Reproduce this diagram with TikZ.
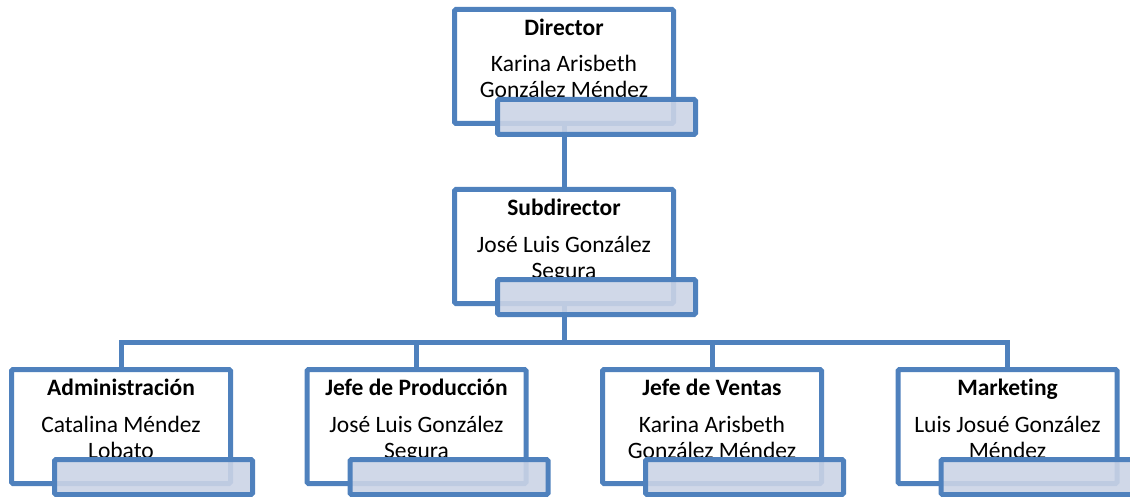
\documentclass[tikz,border=0pt]{standalone}
\usepackage{fontspec}
\setmainfont[Ligatures=NoCommon]{Carlito}
\definecolor{azulborde}{RGB}{79,129,189}
\definecolor{azulrelleno}{RGB}{203,212,230}

\begin{document}
\begin{tikzpicture}[x=1pt,y=1pt,
	puesto/.style={draw=azulborde,line width=5pt,fill=white,rounded corners=1.5pt,minimum width=219pt,minimum height=114pt,inner sep=0pt,outer sep=0pt},
	etiqueta/.style={draw=azulborde,line width=5pt,fill=azulrelleno,fill opacity=0.9,rounded corners=1.5pt,minimum width=198pt,minimum height=35pt,inner sep=0pt,outer sep=0pt,xshift=32.5pt,yshift=-50.5pt},
	titulo/.style={anchor=base,font=\fontsize{23.5}{26}\selectfont\bfseries,inner sep=0pt},
	nombre/.style={anchor=base,align=center,font=\fontsize{23.5}{26}\selectfont,inner sep=0pt},
	linea/.style={draw=azulborde,line width=5pt}]
	\useasboundingbox (0,0) rectangle (1130,-497);
	
	% cajas
	\node[puesto] (dir) at (564,-66.5) {};
	\node[puesto] (sub) at (564,-246.5) {};
	\node[puesto] (adm) at (121,-426.5) {};
	\node[puesto] (prod) at (416.5,-426.5) {};
	\node[puesto] (ven) at (712,-426.5) {};
	\node[puesto] (mkt) at (1007.5,-426.5) {};
	
	\node[titulo] (dirT) at ([yshift=-26pt]dir.north) {Director};
	\node[nombre] (dirN) at ([yshift=-88.5pt]dir.north) {Karina Arisbeth\\González Méndez};
	\node[titulo] (subT) at ([yshift=-26pt]sub.north) {Subdirector};
	\node[nombre] (subN) at ([yshift=-88.5pt]sub.north) {José Luis González\\Segura};
	\node[titulo] (admT) at ([yshift=-26pt]adm.north) {Administración};
	\node[nombre] (admN) at ([yshift=-88.5pt]adm.north) {Catalina Méndez\\Lobato};
	\node[titulo] (prodT) at ([yshift=-26pt]prod.north) {Jefe de Producción};
	\node[nombre] (prodN) at ([yshift=-88.5pt]prod.north) {José Luis González\\Segura};
	\node[titulo] (venT) at ([yshift=-26pt]ven.north) {Jefe de Ventas};
	\node[nombre] (venN) at ([yshift=-88.5pt]ven.north) {Karina Arisbeth\\González Méndez};
	\node[titulo] (mktT) at ([yshift=-26pt]mkt.north) {Marketing};
	\node[nombre] (mktN) at ([yshift=-88.5pt]mkt.north) {Luis Josué González\\Méndez};
	
	% lineas
	\coordinate (bus) at ([yshift=-39pt]sub.south);
	\draw[linea] (dir.south) -- (sub.north);
	\draw[linea] (sub.south) -- (bus);
	\draw[linea] (adm.north) |- (bus) -| (mkt.north);
	\draw[linea] (prod.north) |- (bus);
	\draw[linea] (ven.north) |- (bus);
	
	% etiquetas
	\node[etiqueta] (dirL) at (dir) {};
	\node[etiqueta] (subL) at (sub) {};
	\node[etiqueta] (admL) at (adm) {};
	\node[etiqueta] (prodL) at (prod) {};
	\node[etiqueta] (venL) at (ven) {};
	\node[etiqueta] (mktL) at (mkt) {};
\end{tikzpicture}
\end{document}
